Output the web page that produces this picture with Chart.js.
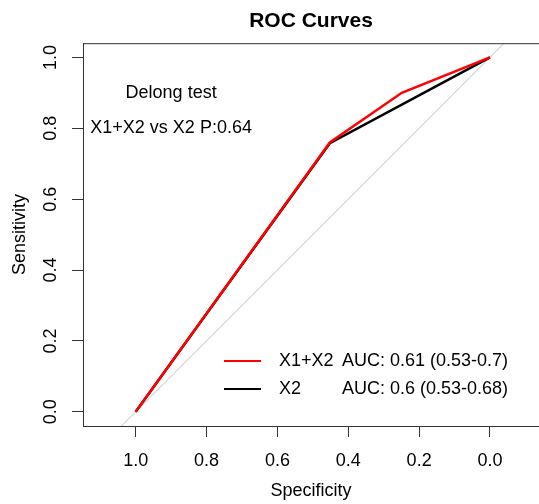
<!DOCTYPE html>
<html>
<head>
<meta charset="utf-8">
<script src="https://cdn.jsdelivr.net/npm/chart.js@4/dist/chart.umd.min.js"></script>
<style>
  body { margin: 0; background: #fff; }
  #wrap { width: 539px; height: 504px; }
</style>
</head>
<body>
<div id="wrap"><canvas id="myChart" width="539" height="504"></canvas></div>
<script>
// ROC points: specificity (x, reversed) and sensitivity (y)
const specX1X2 = [1.0, 0.452, 0.249, 0.0]
const sensX1X2 = [0.0, 0.760, 0.900, 1.0]
const specX2 = [1.0, 0.452, 0.0]
const sensX2 = [0.0, 0.758, 1.0]
// chance diagonal, clipped by the plot area
const diagSpec = [1.2, -0.2]
const diagSens = [-0.2, 1.2]

const tickVals = [0.0, 0.2, 0.4, 0.6, 0.8, 1.0]
const legendNames = ['X1+X2', 'X2']
const legendAuc = ['AUC: 0.61 (0.53-0.7)', 'AUC: 0.6 (0.53-0.68)']
const testTitle = 'Delong test'
const testText = 'X1+X2 vs X2 P:0.64'

const FONT = '"Liberation Sans", Arial, sans-serif'

function toPoints(xs, ys) {
    return xs.map((x, i) => ({ x: x, y: ys[i] }))
}

const annotate = {
    id: 'annotate',
    afterDraw(chart) {
        const ctx = chart.ctx
        const area = chart.chartArea
        const xs = chart.scales.x
        const ys = chart.scales.y
        ctx.save()
        // top edge of the box
        ctx.strokeStyle = '#333'
        ctx.lineWidth = 1
        ctx.beginPath()
        ctx.moveTo(area.left, area.top + 0.5)
        ctx.lineTo(area.right, area.top + 0.5)
        ctx.stroke()

        ctx.fillStyle = '#000'
        ctx.font = '18px ' + FONT
        ctx.textAlign = 'center'
        ctx.textBaseline = 'middle'
        ctx.fillText(testTitle, xs.getPixelForValue(0.9), ys.getPixelForValue(0.9))
        ctx.fillText(testText, xs.getPixelForValue(0.9), ys.getPixelForValue(0.8))

        // legend
        const colors = [chart.data.datasets[0].borderColor, chart.data.datasets[1].borderColor]
        const rowY = [361, 389]
        ctx.textAlign = 'left'
        legendNames.forEach((name, i) => {
            ctx.strokeStyle = colors[i]
            ctx.lineWidth = 2
            ctx.beginPath()
            ctx.moveTo(224, rowY[i])
            ctx.lineTo(261, rowY[i])
            ctx.stroke()
            ctx.fillText(name, 279, rowY[i])
            ctx.fillText(legendAuc[i], 342, rowY[i])
        })
        ctx.restore()
    },
}

function render_chart() {
    const data = {
        datasets: [
            {
                label: 'X1+X2',
                data: toPoints(specX1X2, sensX1X2),
                borderColor: '#ff0000',
                borderWidth: 2.5,
            },
            {
                label: 'X2',
                data: toPoints(specX2, sensX2),
                borderColor: '#000000',
                borderWidth: 2.5,
            },
            {
                label: 'diagonal',
                data: toPoints(diagSpec, diagSens),
                borderColor: '#bebebe',
                borderWidth: 1,
            },
        ],
    }
    const axisColor = '#333'
    const config = {
        type: 'line',
        data: data,
        plugins: [annotate],
        options: {
            responsive: false,
            animation: false,
            layout: { padding: 0 },
            elements: { point: { radius: 0 }, line: { tension: 0 } },
            plugins: {
                legend: { display: false },
                tooltip: { enabled: false },
                title: {
                    display: true,
                    text: 'ROC Curves',
                    fullSize: false,
                    color: '#000',
                    font: { family: FONT, size: 21, weight: 'bold' },
                    padding: { top: 9, bottom: 9 },
                },
            },
            scales: {
                x: {
                    type: 'linear',
                    reverse: true,
                    min: -0.1383,
                    max: 1.1487,
                    afterBuildTicks: (s) => { s.ticks = tickVals.map(v => ({ value: v })) },
                    afterFit: (s) => { s.height = 78 },
                    border: { display: true, color: axisColor, width: 1 },
                    grid: { display: true, drawOnChartArea: false, drawTicks: true, tickLength: 11, color: axisColor },
                    ticks: {
                        color: '#000',
                        font: { family: FONT, size: 18 },
                        padding: 13,
                        maxRotation: 0,
                        callback: (v) => Number(v).toFixed(1),
                    },
                    title: {
                        display: true,
                        text: 'Specificity',
                        color: '#000',
                        font: { family: FONT, size: 18 },
                        padding: { top: 0, bottom: 2 },
                    },
                },
                y: {
                    type: 'linear',
                    min: -0.04,
                    max: 1.04,
                    afterBuildTicks: (s) => { s.ticks = tickVals.map(v => ({ value: v })) },
                    afterFit: (s) => { s.width = 83 },
                    border: { display: true, color: axisColor, width: 1 },
                    grid: { display: true, drawOnChartArea: false, drawTicks: true, tickLength: 11, color: axisColor },
                    ticks: {
                        color: '#000',
                        font: { family: FONT, size: 18 },
                        padding: 8,
                        minRotation: 90,
                        maxRotation: 90,
                        crossAlign: 'center',
                        callback: (v) => Number(v).toFixed(1),
                    },
                    title: {
                        display: true,
                        text: 'Sensitivity',
                        color: '#000',
                        font: { family: FONT, size: 18 },
                        padding: { top: 9, bottom: 0 },
                    },
                },
            },
        },
    }
    const myChart = new Chart(document.getElementById('myChart'), config)
}
document.addEventListener('DOMContentLoaded', render_chart)
</script>
</body>
</html>
